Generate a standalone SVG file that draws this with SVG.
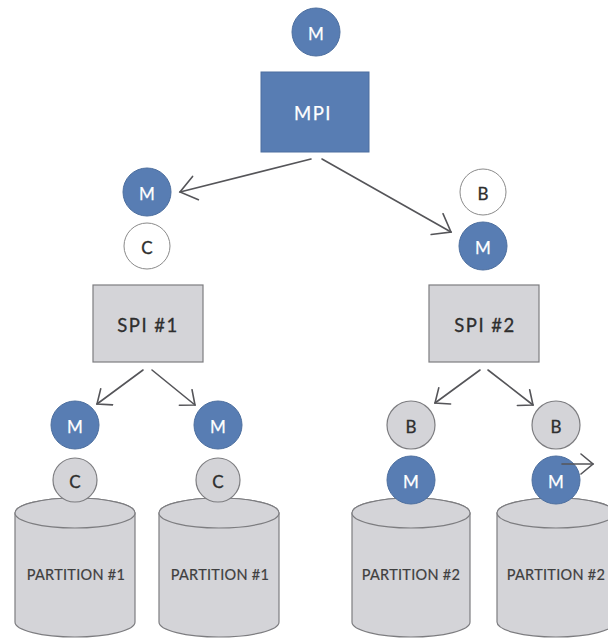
<svg xmlns="http://www.w3.org/2000/svg" width="608" height="639" viewBox="0 0 608 639">
<style>
  .blue { fill: #587db3; stroke: #4d6f9f; stroke-width: 1; }
  .white { fill: #ffffff; stroke: #8a8a8a; stroke-width: 1; }
  .gray { fill: #d4d4d8; stroke: #7d7d80; stroke-width: 1.2; }
  .lt { font-family: Lato, "Open Sans", "Liberation Sans", sans-serif; text-anchor: middle; dominant-baseline: central; }
  .wt { fill: #ffffff; font-size: 17px; stroke: #ffffff; stroke-width: 0.25; }
  .dt { fill: #2e2e2e; font-size: 17px; stroke: #2e2e2e; stroke-width: 0.3; }
  .bx { font-size: 18.5px; letter-spacing: 1.5px; }
  .pt { fill: #3f3f3f; font-size: 14.5px; letter-spacing: 0.3px; stroke: #3f3f3f; stroke-width: 0.2; }
  .conn { fill: none; stroke: #555559; stroke-width: 1.6; stroke-linecap: round; }
</style>
<defs>
  <marker id="big" markerUnits="userSpaceOnUse" markerWidth="24" markerHeight="30" refX="18" refY="13" orient="auto">
    <path d="M2,1 L18,13 L2,25" fill="none" stroke="#555559" stroke-width="1.6" stroke-linecap="round" stroke-linejoin="miter"/>
  </marker>
  <marker id="small" markerUnits="userSpaceOnUse" markerWidth="20" markerHeight="24" refX="14" refY="11" orient="auto">
    <path d="M2,1 L14,11 L2,21" fill="none" stroke="#555559" stroke-width="1.6" stroke-linecap="round"/>
  </marker>
</defs>

<g id="m-top"><circle class="blue" cx="316" cy="32" r="24"/><text class="lt wt" x="316" y="33">M</text></g>
<g id="mpi"><rect class="blue" x="261" y="72" width="108" height="80"/><text class="lt wt bx" x="313" y="113">MPI</text></g>

<g id="m-left"><circle class="blue" cx="147" cy="192" r="24"/><text class="lt wt" x="147" y="193">M</text></g>
<g id="c-left"><circle class="white" cx="147" cy="246" r="23"/><text class="lt dt" x="147" y="247">C</text></g>

<g id="b-right"><circle class="white" cx="483" cy="192" r="23"/><text class="lt dt" x="483" y="193">B</text></g>
<g id="m-right"><circle class="blue" cx="483" cy="246" r="24"/><text class="lt wt" x="483" y="247">M</text></g>

<g id="spi1"><rect class="gray" x="93" y="285" width="110" height="77"/><text class="lt dt bx" x="148" y="325">SPI #1</text></g>
<g id="spi2"><rect class="gray" x="429" y="285" width="110" height="77"/><text class="lt dt bx" x="485" y="325">SPI #2</text></g>

<g id="m-p1a"><circle class="blue" cx="75" cy="425" r="24"/><text class="lt wt" x="75" y="426">M</text></g>
<g id="m-p1b"><circle class="blue" cx="218" cy="425" r="24"/><text class="lt wt" x="218" y="426">M</text></g>
<g id="b-p2a"><circle class="gray" cx="411" cy="425" r="24"/><text class="lt dt" x="411" y="426">B</text></g>
<g id="b-p2b"><circle class="gray" cx="556" cy="425" r="24"/><text class="lt dt" x="556" y="426">B</text></g>

<g id="partition1a">
  <path class="gray" d="M15,513 A60,15 0 0 1 135,513 V622 A60,15 0 0 1 15,622 Z"/>
  <ellipse class="gray" cx="75" cy="513" rx="60" ry="15"/>
  <text class="lt pt" x="76" y="574">PARTITION #1</text>
</g>
<g id="partition1b">
  <path class="gray" d="M159,513 A60,15 0 0 1 279,513 V622 A60,15 0 0 1 159,622 Z"/>
  <ellipse class="gray" cx="219" cy="513" rx="60" ry="15"/>
  <text class="lt pt" x="220" y="574">PARTITION #1</text>
</g>
<g id="partition2a">
  <path class="gray" d="M352,513 A59,15 0 0 1 470,513 V622 A59,15 0 0 1 352,622 Z"/>
  <ellipse class="gray" cx="411" cy="513" rx="59" ry="15"/>
  <text class="lt pt" x="411" y="574">PARTITION #2</text>
</g>
<g id="partition2b">
  <path class="gray" d="M497,513 A59,15 0 0 1 615,513 V622 A59,15 0 0 1 497,622 Z"/>
  <ellipse class="gray" cx="556" cy="513" rx="59" ry="15"/>
  <text class="lt pt" x="556" y="574">PARTITION #2</text>
</g>

<g id="c-p1a"><circle class="gray" cx="75" cy="480" r="22"/><text class="lt dt" x="75" y="481">C</text></g>
<g id="c-p1b"><circle class="gray" cx="218" cy="480" r="22"/><text class="lt dt" x="218" y="481">C</text></g>
<g id="m-p2a"><circle class="blue" cx="411" cy="480" r="24"/><text class="lt wt" x="411" y="481">M</text></g>
<g id="m-p2b"><circle class="blue" cx="556" cy="480" r="24"/><text class="lt wt" x="556" y="481">M</text></g>

<g id="connectors">
  <path class="conn" d="M311,159 L180,192" marker-end="url(#big)"/>
  <path class="conn" d="M322,159 L451,232" marker-end="url(#big)"/>
  <path class="conn" d="M143,370 L97,404" marker-end="url(#small)"/>
  <path class="conn" d="M152,370 L195,405" marker-end="url(#small)"/>
  <path class="conn" d="M480,370 L435,403" marker-end="url(#small)"/>
  <path class="conn" d="M488,370 L533,405" marker-end="url(#small)"/>
  <path class="conn" d="M562,464 L593,464" marker-end="url(#small)"/>
</g>
</svg>
